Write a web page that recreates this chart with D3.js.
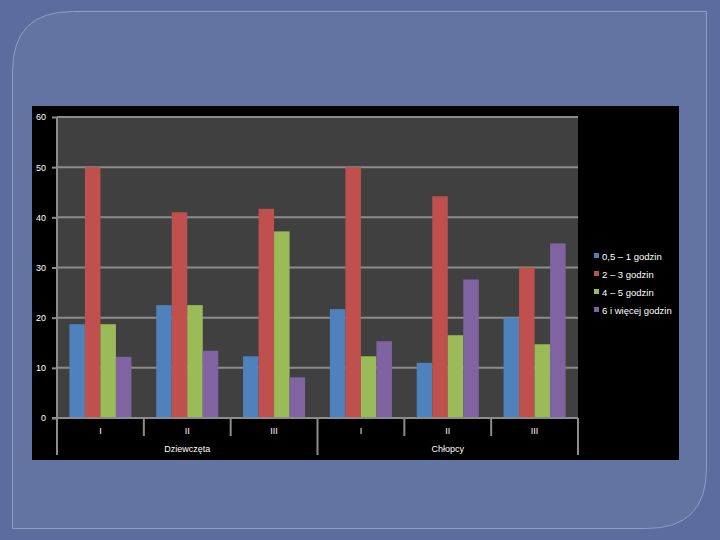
<!DOCTYPE html>
<html>
<head>
<meta charset="utf-8">
<script src="https://cdn.jsdelivr.net/npm/d3@7"></script>
<style>
  body { margin: 0; background: #5a6d9e; }
  svg { display: block; }
  text { font-family: "Liberation Sans", Arial, sans-serif; fill: #fff; }
</style>
</head>
<body>
<svg id="chart" width="720" height="540"></svg>
<script>
// categories and groups
let groups = ["Dziewczęta", "Chłopcy"];
let classes = ["I", "II", "III"];
let seriesNames = ["0,5 – 1 godzin", "2 – 3 godzin", "4 – 5 godzin", "6 i więcej godzin"];
let seriesColors = ["#4f81bd", "#c0504d", "#9bbb59", "#8064a2"];

// values read per series, in order D-I, D-II, D-III, C-I, C-II, C-III
let s1 = [18.7, 22.5, 12.3, 21.7, 11.0, 20.0];
let s2 = [50.0, 41.0, 41.7, 50.0, 44.2, 30.0];
let s3 = [18.7, 22.5, 37.2, 12.3, 16.5, 14.7];
let s4 = [12.2, 13.4, 8.1, 15.3, 27.6, 34.8];
let series = [s1, s2, s3, s4];

let yTicks = [0, 10, 20, 30, 40, 50, 60];

let svg = d3.select("#chart");

// slide background
svg.append("rect").attr("width", 720).attr("height", 540).attr("fill", "#5a6d9e");
let r = 60, L = 12.5, T = 11.5, R = 706.5, B = 528.5;
svg.append("path")
   .attr("d", `M${L},${T + r} Q${L},${T} ${L + r},${T} L${R},${T} L${R},${B - r} Q${R},${B} ${R - r},${B} L${L},${B} Z`)
   .attr("fill", "#6174a2")
   .attr("stroke", "#8d9dc6")
   .attr("stroke-width", 1);

// chart frame
svg.append("rect")
   .attr("x", 32).attr("y", 106).attr("width", 647).attr("height", 354)
   .attr("fill", "#000");

let plot = {left: 57, right: 578, top: 117, bottom: 418};

let keys = [];
groups.forEach(g => classes.forEach(c => keys.push(g + "|" + c)));

let x0 = d3.scaleBand().domain(keys).range([plot.left, plot.right]).paddingInner(0).paddingOuter(0);
let x1 = d3.scaleBand().domain(d3.range(4)).range([12.4, x0.bandwidth() - 12.4]);
let y = d3.scaleLinear().domain([0, 60]).range([plot.bottom, plot.top]);

svg.append("rect")
   .attr("x", plot.left).attr("y", plot.top)
   .attr("width", plot.right - plot.left).attr("height", plot.bottom - plot.top)
   .attr("fill", "#404040");

// gridlines
svg.append("g")
   .selectAll("line")
   .data(yTicks.filter(d => d > 0))
   .join("line")
   .attr("x1", plot.left).attr("x2", plot.right)
   .attr("y1", d => y(d)).attr("y2", d => y(d))
   .attr("stroke", "#8c8c8c").attr("stroke-width", 2);

// bars
let cats = svg.append("g")
   .selectAll("g")
   .data(keys)
   .join("g")
   .attr("transform", d => `translate(${x0(d)},0)`);

cats.selectAll("rect")
   .data((d, i) => series.map((s, j) => ({j: j, v: s[i]})))
   .join("rect")
   .attr("x", d => x1(d.j))
   .attr("width", x1.bandwidth())
   .attr("y", d => y(d.v))
   .attr("height", d => y(0) - y(d.v))
   .attr("fill", d => seriesColors[d.j]);

// y axis
let yAxis = svg.append("g")
   .attr("transform", `translate(${plot.left},0)`)
   .call(d3.axisLeft(y).tickValues(yTicks).tickSize(5).tickPadding(6).tickFormat(d3.format("d")));
yAxis.select(".domain").attr("stroke", "#8c8c8c").attr("stroke-width", 2).attr("d", `M0,${plot.top}V${plot.bottom}`);
yAxis.selectAll(".tick line").attr("stroke", "#8c8c8c").attr("stroke-width", 2);
yAxis.selectAll(".tick text").attr("fill", "#fff").style("font-size", "9px").attr("x", -11);

// x axis line
svg.append("line")
   .attr("x1", plot.left - 5).attr("x2", plot.right)
   .attr("y1", plot.bottom).attr("y2", plot.bottom)
   .attr("stroke", "#8c8c8c").attr("stroke-width", 2);

// category dividers
let bounds = keys.map(k => x0(k)).concat([plot.right]);
svg.append("g")
   .selectAll("line")
   .data(bounds)
   .join("line")
   .attr("x1", d => d).attr("x2", d => d)
   .attr("y1", plot.bottom)
   .attr("y2", (d, i) => (i % 3 === 0) ? 455 : 436)
   .attr("stroke", "#8c8c8c").attr("stroke-width", 2);

// class labels
svg.append("g")
   .selectAll("text")
   .data(keys)
   .join("text")
   .attr("x", d => x0(d) + x0.bandwidth() / 2)
   .attr("y", 434)
   .attr("text-anchor", "middle")
   .style("font-size", "9px")
   .text(d => d.split("|")[1]);

// group labels
let gx = d3.scaleBand().domain(groups).range([plot.left, plot.right]);
svg.append("g")
   .selectAll("text")
   .data(groups)
   .join("text")
   .attr("x", d => gx(d) + gx.bandwidth() / 2)
   .attr("y", 452)
   .attr("text-anchor", "middle")
   .style("font-size", "9px")
   .text(d => d);

// legend
let legend = svg.append("g")
   .selectAll("g")
   .data(seriesNames)
   .join("g")
   .attr("transform", (d, i) => `translate(594,${257 + i * 18})`);
legend.append("rect")
   .attr("x", 0).attr("y", -4).attr("width", 5).attr("height", 5)
   .attr("fill", (d, i) => seriesColors[i]);
legend.append("text")
   .attr("x", 8).attr("y", 3)
   .style("font-size", "9.5px")
   .text(d => d);
</script>
</body>
</html>
